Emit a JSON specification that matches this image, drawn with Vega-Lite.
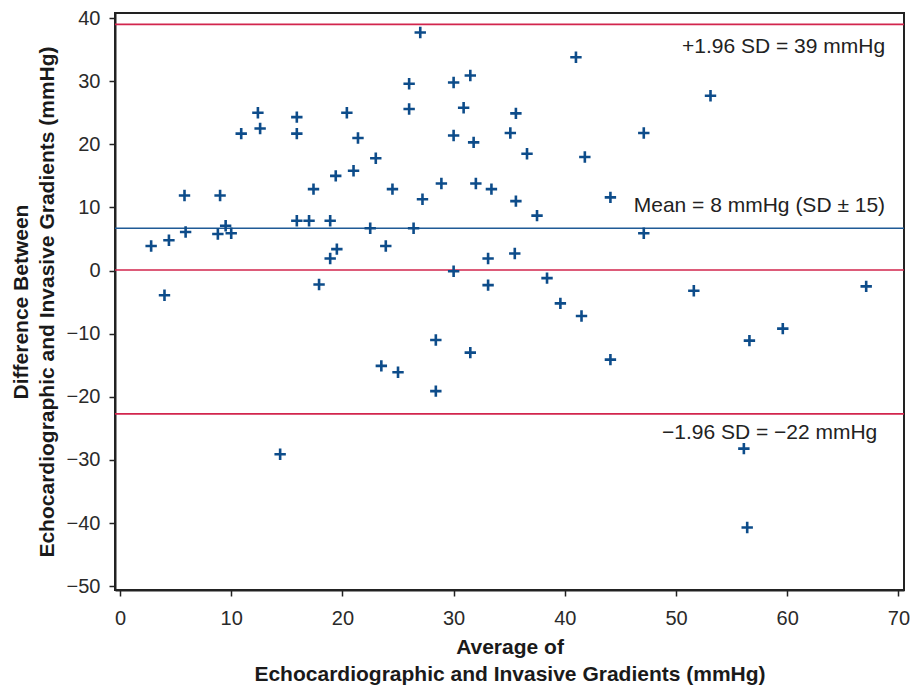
{
  "$schema": "https://vega.github.io/schema/vega-lite/v6.json",
  "autosize": "none",
  "width": 789,
  "height": 577,
  "padding": {"left": 115, "top": 13, "right": 8, "bottom": 96},
  "background": "white",
  "config": {
    "view": {"stroke": "#222222", "strokeWidth": 2},
    "font": "Liberation Sans",
    "axis": {
      "domainColor": "#222222",
      "domainWidth": 2,
      "tickColor": "#222222",
      "tickWidth": 1.5,
      "tickSize": 6,
      "grid": false,
      "labelFont": "Liberation Sans",
      "labelFontSize": 20,
      "labelColor": "#2a2a2a",
      "titleFont": "Liberation Sans",
      "titleFontSize": 21,
      "titleFontWeight": "bold",
      "titleColor": "#1a1a1a"
    }
  },
  "datasets": {
    "points": [
      {"avg": 2.8, "diff": 3.9}, {"avg": 4.0, "diff": -3.9}, {"avg": 4.4, "diff": 4.8},
      {"avg": 5.8, "diff": 11.9}, {"avg": 5.9, "diff": 6.1}, {"avg": 9.0, "diff": 11.9},
      {"avg": 8.8, "diff": 5.8}, {"avg": 9.5, "diff": 7.1}, {"avg": 10.0, "diff": 5.9},
      {"avg": 10.9, "diff": 21.7}, {"avg": 12.4, "diff": 25.0}, {"avg": 12.6, "diff": 22.5},
      {"avg": 15.9, "diff": 24.3}, {"avg": 15.9, "diff": 21.7}, {"avg": 15.9, "diff": 7.9},
      {"avg": 17.0, "diff": 7.9}, {"avg": 17.4, "diff": 12.9}, {"avg": 17.9, "diff": -2.2},
      {"avg": 18.9, "diff": 7.9}, {"avg": 19.4, "diff": 15.0}, {"avg": 18.9, "diff": 1.9},
      {"avg": 19.5, "diff": 3.4}, {"avg": 20.4, "diff": 25.0}, {"avg": 21.4, "diff": 21.0},
      {"avg": 21.0, "diff": 15.8}, {"avg": 23.0, "diff": 17.8}, {"avg": 22.5, "diff": 6.7},
      {"avg": 23.9, "diff": 3.9}, {"avg": 24.5, "diff": 12.9}, {"avg": 26.0, "diff": 29.6},
      {"avg": 26.0, "diff": 25.6}, {"avg": 26.4, "diff": 6.7}, {"avg": 27.0, "diff": 37.7},
      {"avg": 27.2, "diff": 11.3}, {"avg": 28.9, "diff": 13.8}, {"avg": 30.0, "diff": 29.8},
      {"avg": 30.0, "diff": 21.4}, {"avg": 30.0, "diff": -0.1}, {"avg": 31.5, "diff": 30.9},
      {"avg": 30.9, "diff": 25.8}, {"avg": 31.8, "diff": 20.3}, {"avg": 32.0, "diff": 13.8},
      {"avg": 33.4, "diff": 12.9}, {"avg": 33.1, "diff": 1.9}, {"avg": 33.1, "diff": -2.3},
      {"avg": 28.4, "diff": -11.0}, {"avg": 28.4, "diff": -19.1}, {"avg": 23.5, "diff": -15.1},
      {"avg": 25.0, "diff": -16.1}, {"avg": 31.5, "diff": -13.0}, {"avg": 14.4, "diff": -29.1},
      {"avg": 35.1, "diff": 21.8}, {"avg": 35.6, "diff": 24.9}, {"avg": 36.6, "diff": 18.5},
      {"avg": 35.6, "diff": 11.0}, {"avg": 37.5, "diff": 8.7}, {"avg": 35.5, "diff": 2.7},
      {"avg": 38.4, "diff": -1.2}, {"avg": 39.6, "diff": -5.2}, {"avg": 41.0, "diff": 33.8},
      {"avg": 41.8, "diff": 18.0}, {"avg": 41.5, "diff": -7.2}, {"avg": 44.1, "diff": 11.6},
      {"avg": 44.1, "diff": -14.1}, {"avg": 47.1, "diff": 21.8}, {"avg": 47.1, "diff": 5.9},
      {"avg": 51.6, "diff": -3.2}, {"avg": 53.1, "diff": 27.7}, {"avg": 56.6, "diff": -11.1},
      {"avg": 56.1, "diff": -28.2}, {"avg": 56.4, "diff": -40.7}, {"avg": 59.6, "diff": -9.2},
      {"avg": 67.1, "diff": -2.5}
    ],
    "lines": [
      {"name": "upper", "value": 39.0},
      {"name": "zero", "value": 0.1},
      {"name": "lower", "value": -22.7}
    ],
    "mean": [{"name": "mean", "value": 6.7}],
    "labels": [
      {"label": "+1.96 SD = 39 mmHg", "xpos": 68.8, "ypos": 35.4},
      {"label": "Mean = 8 mmHg (SD ± 15)", "xpos": 68.8, "ypos": 10.2},
      {"label": "−1.96 SD = −22 mmHg", "xpos": 68.1, "ypos": -25.8}
    ]
  },
  "layer": [
    {
      "data": {"name": "lines"},
      "mark": {"type": "rule", "color": "#d2254d", "strokeWidth": 1.6},
      "encoding": {
        "y": {"field": "value", "type": "quantitative", "scale": {"domain": [-50.6, 40.8], "nice": false, "zero": false}}
      }
    },
    {
      "data": {"name": "mean"},
      "mark": {"type": "rule", "color": "#1f5a96", "strokeWidth": 1.6},
      "encoding": {
        "y": {"field": "value", "type": "quantitative"}
      }
    },
    {
      "data": {"name": "points"},
      "mark": {"type": "point", "shape": "M-1,0H1M0,-1V1", "filled": false, "stroke": "#0d4c8a", "strokeWidth": 2.6, "size": 130, "opacity": 1},
      "encoding": {
        "x": {
          "field": "avg", "type": "quantitative",
          "scale": {"domain": [-0.45, 70.5], "nice": false, "zero": false},
          "axis": {"values": [0, 10, 20, 30, 40, 50, 60, 70], "title": ["Average of", "Echocardiographic and Invasive Gradients (mmHg)"], "labelPadding": 12, "titlePadding": 8, "titleLineHeight": 27}
        },
        "y": {
          "field": "diff", "type": "quantitative",
          "axis": {"values": [-50, -40, -30, -20, -10, 0, 10, 20, 30, 40], "title": ["Difference Between", "Echocardiographic and Invasive Gradients (mmHg)"], "labelPadding": 9, "titlePadding": 9, "titleLineHeight": 26}
        }
      }
    },
    {
      "data": {"name": "labels"},
      "mark": {"type": "text", "align": "right", "baseline": "middle", "fontSize": 21, "color": "#222222", "font": "Liberation Sans"},
      "encoding": {
        "x": {"field": "xpos", "type": "quantitative"},
        "y": {"field": "ypos", "type": "quantitative"},
        "text": {"field": "label"}
      }
    }
  ]
}
